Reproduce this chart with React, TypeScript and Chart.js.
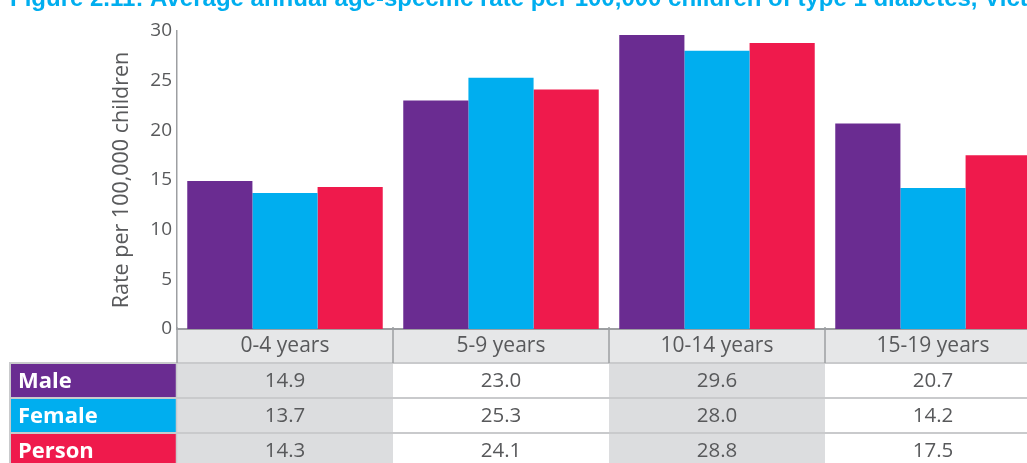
import React, { useEffect, useRef } from "react";
import { Chart, registerables } from "chart.js";

Chart.register(...registerables);

const categories = ["0-4 years", "5-9 years", "10-14 years", "15-19 years"];
const seriesNames = ["Male", "Female", "Person"];
const maleValues = [14.9, 23.0, 29.6, 20.7];
const femaleValues = [13.7, 25.3, 28.0, 14.2];
const personValues = [14.3, 24.1, 28.8, 17.5];
const seriesColors = ["#6a2c91", "#00aeef", "#ef1a4c"];
const yMin = 0;
const yMax = 30;
const yStep = 5;
const titleText =
  "Figure 2.11: Average annual age-specific rate per 100,000 children of type 1 diabetes, Victoria";
const yAxisTitle = "Rate per 100,000 children";

const TEXT = "#58595b";
const FONT = "'Open Sans', 'DejaVu Sans', sans-serif";

const tablePlugin = {
  id: "dataTable",
  afterDraw(chart: any) {
    const ctx = chart.ctx;
    const area = chart.chartArea;
    const xs = chart.scales.x;
    const n = categories.length;
    const catW = (area.right - area.left) / n;
    const headerTop = area.bottom + 1;
    const headerBottom = 363;
    const rowH = 35;
    const labelLeft = 10;
    const labelRight = area.left - 1;
    const allSeries = [maleValues, femaleValues, personValues];
    ctx.save();

    // header row
    ctx.fillStyle = "#e6e7e8";
    ctx.fillRect(area.left, headerTop, area.right - area.left, headerBottom - headerTop);

    // data cells background
    for (let i = 0; i < n; i++) {
      const cx = xs.getPixelForValue(i);
      ctx.fillStyle = i % 2 === 0 ? "#dcdddf" : "#ffffff";
      ctx.fillRect(cx - catW / 2, headerBottom, catW, 463 - headerBottom + 10);
    }

    // label cells
    for (let r = 0; r < seriesNames.length; r++) {
      const top = headerBottom + r * rowH;
      ctx.fillStyle = seriesColors[r];
      ctx.fillRect(labelLeft, top, labelRight - labelLeft, rowH);
    }

    // row borders
    ctx.strokeStyle = "#c9cacc";
    ctx.lineWidth = 2;
    for (let r = 0; r <= seriesNames.length; r++) {
      const y = headerBottom + r * rowH;
      ctx.beginPath();
      ctx.moveTo(labelLeft - 1, y);
      ctx.lineTo(area.right, y);
      ctx.stroke();
    }
    ctx.beginPath();
    ctx.moveTo(labelLeft, headerBottom);
    ctx.lineTo(labelLeft, 470);
    ctx.stroke();

    // vertical dividers in header
    ctx.strokeStyle = "#9d9fa2";
    ctx.lineWidth = 1.5;
    for (let i = 0; i <= n; i++) {
      const x = area.left + i * catW;
      ctx.beginPath();
      ctx.moveTo(x, area.bottom - 2);
      ctx.lineTo(x, headerBottom);
      ctx.stroke();
    }
    ctx.strokeStyle = "#c9cacc";
    ctx.beginPath();
    ctx.moveTo(area.left - 0.5, headerBottom);
    ctx.lineTo(area.left - 0.5, 470);
    ctx.stroke();

    // header text
    ctx.fillStyle = TEXT;
    ctx.textAlign = "center";
    ctx.textBaseline = "middle";
    ctx.font = `21px ${FONT}`;
    for (let i = 0; i < n; i++) {
      ctx.fillText(categories[i], xs.getPixelForValue(i), (headerTop + headerBottom) / 2);
    }

    // values
    ctx.font = `20.5px ${FONT}`;
    for (let r = 0; r < allSeries.length; r++) {
      const cy = headerBottom + r * rowH + rowH / 2 + 1;
      for (let i = 0; i < n; i++) {
        ctx.fillText(allSeries[r][i].toFixed(1), xs.getPixelForValue(i), cy);
      }
    }

    // row labels
    ctx.fillStyle = "#ffffff";
    ctx.textAlign = "left";
    ctx.font = `bold 22px ${FONT}`;
    for (let r = 0; r < seriesNames.length; r++) {
      const cy = headerBottom + r * rowH + rowH / 2 + 1;
      ctx.fillText(seriesNames[r], 18, cy);
    }

    // title (mostly cropped at top)
    ctx.fillStyle = "#00aeef";
    ctx.textBaseline = "alphabetic";
    ctx.font = `bold 24px 'Liberation Sans', Arial, sans-serif`;
    ctx.fillText(titleText, 10, 6);

    ctx.restore();
  },
};

export default function App() {
  const canvasRef = useRef<HTMLCanvasElement | null>(null);

  useEffect(() => {
    const canvas = canvasRef.current;
    if (!canvas) return;
    const chart = new Chart(canvas, {
      type: "bar",
      data: {
        labels: categories,
        datasets: [
          { label: seriesNames[0], data: maleValues, backgroundColor: seriesColors[0] },
          { label: seriesNames[1], data: femaleValues, backgroundColor: seriesColors[1] },
          { label: seriesNames[2], data: personValues, backgroundColor: seriesColors[2] },
        ],
      },
      options: {
        responsive: false,
        animation: false,
        maintainAspectRatio: false,
        layout: { padding: { top: 31, bottom: 134, left: 0, right: 4 } },
        datasets: {
          bar: { categoryPercentage: 0.905, barPercentage: 1.0, borderWidth: 0 },
        },
        plugins: {
          legend: { display: false },
          title: { display: false },
          tooltip: { enabled: false },
        },
        scales: {
          x: {
            type: "category",
            offset: true,
            grid: { display: false, drawTicks: false },
            ticks: { display: false },
            border: { display: true, color: "#9d9fa2", width: 2 },
          },
          y: {
            min: yMin,
            max: yMax,
            ticks: {
              stepSize: yStep,
              color: TEXT,
              padding: 5,
              font: { family: FONT, size: 19 },
            },
            grid: { display: false, drawTicks: false },
            border: { display: true, color: "#9d9fa2", width: 1.5 },
            title: {
              display: true,
              text: yAxisTitle,
              color: TEXT,
              font: { family: FONT, size: 21.5 },
              padding: { top: 109, bottom: 0 },
            },
            afterFit(scale: any) {
              scale.width = 177;
            },
          },
        },
      },
      plugins: [tablePlugin],
    });
    return () => chart.destroy();
  }, []);

  return (
    <div
      style={{
        position: "fixed",
        left: 0,
        top: 0,
        width: 1027,
        height: 463,
        overflow: "hidden",
        background: "#ffffff",
      }}
    >
      <canvas ref={canvasRef} width={1045} height={463} style={{ display: "block" }} />
    </div>
  );
}
